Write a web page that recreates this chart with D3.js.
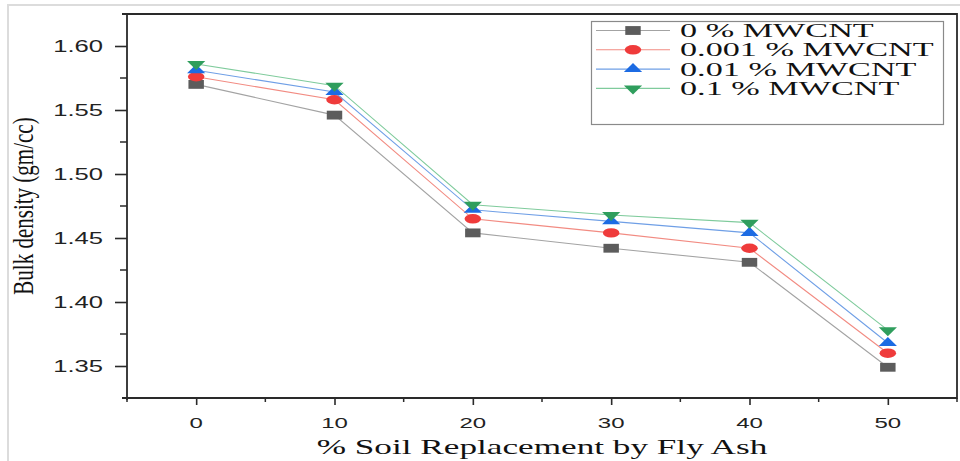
<!DOCTYPE html>
<html>
<head>
<meta charset="utf-8">
<script src="https://cdn.jsdelivr.net/npm/d3@7"></script>
<style>
  body { margin: 0; background: #fff; }
</style>
</head>
<body>
<div id="chart"></div>
<script>
// % soil replaced by fly ash
const replacement = [0, 10, 20, 30, 40, 50];
// bulk density (gm/cc), one array per MWCNT dosage
const mw0 = [1.570, 1.546, 1.454, 1.442, 1.431, 1.349];
const mw001 = [1.576, 1.558, 1.465, 1.454, 1.442, 1.360];
const mw01 = [1.581, 1.564, 1.472, 1.463, 1.454, 1.368];
const mw1 = [1.586, 1.569, 1.476, 1.468, 1.462, 1.378];
const seriesNames = ["0 % MWCNT", "0.001 % MWCNT", "0.01 % MWCNT", "0.1 % MWCNT"];
const xTicks = [0, 10, 20, 30, 40, 50];
const yTicks = [1.35, 1.40, 1.45, 1.50, 1.55, 1.60];

const W = 960, H = 461;
const plotL = 127, plotR = 957, plotT = 14, plotB = 398;

const series = [
  { name: seriesNames[0], values: mw0, line: "#a3a3a3", fill: "#5c5c5c", shape: d3.symbolSquare, size: 78 },
  { name: seriesNames[1], values: mw001, line: "#f28b82", fill: "#ef3b3b", shape: d3.symbolCircle, size: 70 },
  { name: seriesNames[2], values: mw01, line: "#6f9fe6", fill: "#1c6be3", shape: d3.symbolTriangle, size: 47 },
  { name: seriesNames[3], values: mw1, line: "#7fcb9c", fill: "#2f9e5d", shape: d3.symbolTriangle, size: 47, flip: true }
];

const x = d3.scaleLinear().domain([-5, 55]).range([plotL, plotR]);
const y = d3.scaleLinear().domain([1.325, 1.625]).range([plotB, plotT]);

const svg = d3.select("#chart").append("svg")
  .attr("width", W)
  .attr("height", H);

svg.append("rect").attr("width", W).attr("height", H).attr("fill", "#fff");

// faint outer picture border
svg.append("path")
  .attr("d", "M8," + H + "V5H" + W)
  .attr("fill", "none")
  .attr("stroke", "#dcdcdc")
  .attr("stroke-width", 2);

// minor ticks
const g = svg.append("g");
g.selectAll(".xminor")
  .data(d3.range(-5, 56, 5).filter(function (d) { return d % 10 !== 0; }))
  .enter().append("line")
  .attr("x1", function (d) { return x(d); })
  .attr("x2", function (d) { return x(d); })
  .attr("y1", plotB)
  .attr("y2", plotB + 4)
  .attr("stroke", "#2a2a2a")
  .attr("stroke-width", 1.5);

g.selectAll(".yminor")
  .data(d3.range(1.375, 1.62, 0.05))
  .enter().append("line")
  .attr("x1", plotL - 7)
  .attr("x2", plotL)
  .attr("y1", function (d) { return y(d); })
  .attr("y2", function (d) { return y(d); })
  .attr("stroke", "#2a2a2a")
  .attr("stroke-width", 1.5);

// major ticks via axes
const xAxis = svg.append("g")
  .attr("transform", "translate(0," + plotB + ")")
  .call(d3.axisBottom(x).tickValues(xTicks).tickSize(7).tickFormat(""));
const yAxis = svg.append("g")
  .attr("transform", "translate(" + plotL + ",0)")
  .call(d3.axisLeft(y).tickValues(yTicks).tickSize(12).tickFormat(""));
[xAxis, yAxis].forEach(function (a) {
  a.select(".domain").remove();
  a.selectAll("line").attr("stroke", "#2a2a2a").attr("stroke-width", 1.6);
});

// tick labels, stretched wide like the source image
svg.selectAll(".xlab")
  .data(xTicks)
  .enter().append("text")
  .attr("transform", function (d) { return "translate(" + x(d) + ",428) scale(1.6,1)"; })
  .attr("text-anchor", "middle")
  .style("font-family", "'Liberation Sans', Arial, sans-serif")
  .style("font-size", "15px")
  .attr("fill", "#222")
  .text(function (d) { return d; });

svg.selectAll(".ylab")
  .data(yTicks)
  .enter().append("text")
  .attr("transform", function (d) { return "translate(103," + y(d) + ") scale(1.6,1)"; })
  .attr("text-anchor", "end")
  .attr("dy", "0.36em")
  .style("font-family", "'Liberation Sans', Arial, sans-serif")
  .style("font-size", "16px")
  .attr("fill", "#222")
  .text(function (d) { return d.toFixed(2); });

// frame
svg.append("path")
  .attr("d", "M122," + plotT + "H" + plotR + "V" + plotB + "H122M" + plotL + "," + plotT + "V" + (plotB + 2))
  .attr("fill", "none")
  .attr("stroke", "#2a2a2a")
  .attr("stroke-width", 1.8);

// axis titles
svg.append("text")
  .attr("transform", "translate(" + ((plotL + plotR) / 2) + ",454) scale(1.6,1)")
  .attr("text-anchor", "middle")
  .style("font-family", "'Liberation Serif', 'Times New Roman', serif")
  .style("font-size", "22px")
  .attr("fill", "#111")
  .text("% Soil Replacement by Fly Ash");

svg.append("text")
  .attr("transform", "translate(33," + ((plotT + plotB) / 2) + ") scale(1.43,1) rotate(-90)")
  .attr("text-anchor", "middle")
  .style("font-family", "'Liberation Serif', 'Times New Roman', serif")
  .style("font-size", "21px")
  .attr("fill", "#111")
  .text("Bulk density (gm/cc)");

const line = d3.line()
  .x(function (d) { return x(d[0]); })
  .y(function (d) { return y(d[1]); });

function marker(sel, s) {
  sel.attr("d", d3.symbol().type(s.shape).size(s.size)())
    .attr("fill", s.fill);
}

series.forEach(function (s) {
  const pts = replacement.map(function (r, i) { return [r, s.values[i]]; });
  svg.append("path")
    .datum(pts)
    .attr("d", line)
    .attr("fill", "none")
    .attr("stroke", s.line)
    .attr("stroke-width", 1.1);
  svg.selectAll(null)
    .data(pts)
    .enter().append("path")
    .call(marker, s)
    .attr("transform", function (d) {
      return "translate(" + x(d[0]) + "," + y(d[1]) + ") scale(1.75," + (s.flip ? -1 : 1) + ")";
    });
});

// legend
const lg = svg.append("g");
lg.append("rect")
  .attr("x", 591.5).attr("y", 21.5)
  .attr("width", 352).attr("height", 103)
  .attr("fill", "#fff")
  .attr("stroke", "#8a8a8a")
  .attr("stroke-width", 1.2);

series.forEach(function (s, i) {
  const cy = 30.5 + i * 19.3;
  lg.append("line")
    .attr("x1", 596).attr("x2", 670)
    .attr("y1", cy).attr("y2", cy)
    .attr("stroke", s.line)
    .attr("stroke-width", 1.1);
  lg.append("path")
    .call(marker, s)
    .attr("transform", "translate(633," + cy + ") scale(1.75," + (s.flip ? -1 : 1) + ")");
  lg.append("text")
    .attr("transform", "translate(680," + cy + ") scale(1.8,1)")
    .attr("dy", "0.34em")
    .style("font-family", "'Liberation Serif', 'Times New Roman', serif")
    .style("font-size", "19px")
    .attr("fill", "#111")
    .text(s.name);
});
</script>
</body>
</html>
